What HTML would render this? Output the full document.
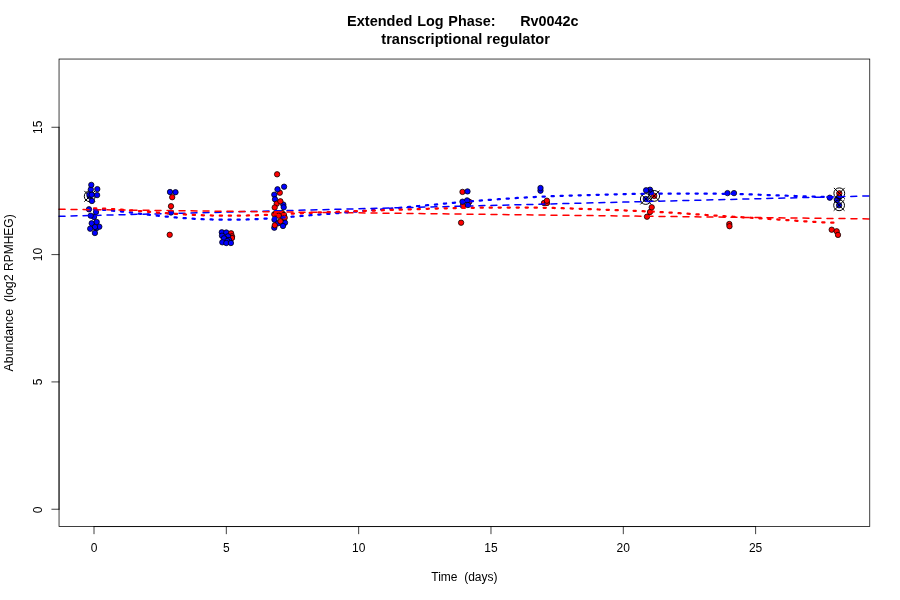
<!DOCTYPE html>
<html lang="en"><head><meta charset="utf-8"><title>Extended Log Phase: Rv0042c</title>
<style>html,body{margin:0;padding:0;background:#fff}body{width:900px;height:600px;position:relative;overflow:hidden}</style>
</head><body>
<svg width="900" height="600" viewBox="0 0 900 600" style="position:absolute;left:0;top:0">
<rect width="900" height="600" fill="#fff"/>
<g id="pts" stroke="#000" stroke-width="0.75">
<circle cx="89.7" cy="196.3" r="2.7" fill="#0000ff"/>
<circle cx="89.7" cy="196.3" r="5.4" fill="none" stroke-width="1"/>
<path d="M84.3 190.9L95.1 201.7M84.3 201.7L95.1 190.9" fill="none" stroke-width="1"/>
<circle cx="89.4" cy="194.6" r="2.7" fill="#0000ff"/>
<circle cx="91.7" cy="194.7" r="2.7" fill="#0000ff"/>
<circle cx="97.1" cy="195.1" r="2.7" fill="#0000ff"/>
<circle cx="90.8" cy="189.5" r="2.7" fill="#0000ff"/>
<circle cx="97.3" cy="189.1" r="2.7" fill="#0000ff"/>
<circle cx="91.3" cy="184.9" r="2.7" fill="#0000ff"/>
<circle cx="91.9" cy="201.0" r="2.7" fill="#0000ff"/>
<circle cx="89.0" cy="209.3" r="2.7" fill="#0000ff"/>
<circle cx="96.0" cy="212.0" r="2.7" fill="#0000ff"/>
<circle cx="94.0" cy="217.0" r="2.7" fill="#0000ff"/>
<circle cx="90.7" cy="215.7" r="2.7" fill="#0000ff"/>
<circle cx="91.7" cy="223.3" r="2.7" fill="#0000ff"/>
<circle cx="96.7" cy="222.0" r="2.7" fill="#0000ff"/>
<circle cx="96.3" cy="228.3" r="2.7" fill="#0000ff"/>
<circle cx="99.3" cy="226.7" r="2.7" fill="#0000ff"/>
<circle cx="95.0" cy="227.0" r="2.7" fill="#0000ff"/>
<circle cx="90.2" cy="228.7" r="2.7" fill="#0000ff"/>
<circle cx="94.9" cy="233.0" r="2.7" fill="#0000ff"/>
<circle cx="170.0" cy="192.0" r="2.7" fill="#0000ff"/>
<circle cx="175.5" cy="192.2" r="2.7" fill="#0000ff"/>
<circle cx="172.2" cy="197.2" r="2.7" fill="#ff0000"/>
<circle cx="171.0" cy="206.2" r="2.7" fill="#ff0000"/>
<circle cx="171.0" cy="212.5" r="2.7" fill="#0000ff"/>
<circle cx="169.7" cy="234.8" r="2.7" fill="#ff0000"/>
<circle cx="221.8" cy="232.3" r="2.7" fill="#0000ff"/>
<circle cx="226.3" cy="232.5" r="2.7" fill="#0000ff"/>
<circle cx="231.1" cy="233.3" r="2.7" fill="#ff0000"/>
<circle cx="232.0" cy="236.3" r="2.7" fill="#ff0000"/>
<circle cx="232.0" cy="238.0" r="2.7" fill="#ff0000"/>
<circle cx="222.0" cy="235.7" r="2.7" fill="#0000ff"/>
<circle cx="228.0" cy="236.3" r="2.7" fill="#0000ff"/>
<circle cx="225.0" cy="239.0" r="2.7" fill="#0000ff"/>
<circle cx="229.0" cy="240.0" r="2.7" fill="#0000ff"/>
<circle cx="224.0" cy="238.3" r="2.7" fill="#0000ff"/>
<circle cx="227.2" cy="241.0" r="2.7" fill="#0000ff"/>
<circle cx="222.3" cy="242.3" r="2.7" fill="#0000ff"/>
<circle cx="226.3" cy="243.0" r="2.7" fill="#0000ff"/>
<circle cx="230.9" cy="243.0" r="2.7" fill="#0000ff"/>
<circle cx="277.1" cy="174.3" r="2.7" fill="#ff0000"/>
<circle cx="284.1" cy="186.7" r="2.7" fill="#0000ff"/>
<circle cx="279.8" cy="192.7" r="2.7" fill="#ff0000"/>
<circle cx="277.5" cy="189.3" r="2.7" fill="#0000ff"/>
<circle cx="274.3" cy="194.7" r="2.7" fill="#0000ff"/>
<circle cx="275.0" cy="199.3" r="2.7" fill="#0000ff"/>
<circle cx="283.3" cy="204.6" r="2.7" fill="#0000ff"/>
<circle cx="276.7" cy="203.7" r="2.7" fill="#ff0000"/>
<circle cx="280.4" cy="201.3" r="2.7" fill="#ff0000"/>
<circle cx="283.7" cy="207.3" r="2.7" fill="#0000ff"/>
<circle cx="274.7" cy="207.5" r="2.7" fill="#ff0000"/>
<circle cx="274.3" cy="227.7" r="2.7" fill="#0000ff"/>
<circle cx="283.3" cy="218.0" r="2.7" fill="#0000ff"/>
<circle cx="274.3" cy="214.3" r="2.7" fill="#ff0000"/>
<circle cx="282.0" cy="213.0" r="2.7" fill="#ff0000"/>
<circle cx="276.0" cy="213.3" r="2.7" fill="#ff0000"/>
<circle cx="284.0" cy="215.0" r="2.7" fill="#ff0000"/>
<circle cx="284.7" cy="217.7" r="2.7" fill="#ff0000"/>
<circle cx="278.7" cy="215.7" r="2.7" fill="#ff0000"/>
<circle cx="274.5" cy="219.7" r="2.7" fill="#0000ff"/>
<circle cx="285.0" cy="222.7" r="2.7" fill="#0000ff"/>
<circle cx="278.0" cy="223.3" r="2.7" fill="#0000ff"/>
<circle cx="280.5" cy="221.3" r="2.7" fill="#ff0000"/>
<circle cx="274.8" cy="225.3" r="2.7" fill="#ff0000"/>
<circle cx="283.0" cy="226.0" r="2.7" fill="#0000ff"/>
<circle cx="462.5" cy="191.9" r="2.7" fill="#ff0000"/>
<circle cx="467.5" cy="191.4" r="2.7" fill="#0000ff"/>
<circle cx="469.3" cy="201.8" r="2.7" fill="#ff0000"/>
<circle cx="462.9" cy="205.8" r="2.7" fill="#ff0000"/>
<circle cx="462.5" cy="201.7" r="2.7" fill="#0000ff"/>
<circle cx="467.1" cy="200.4" r="2.7" fill="#0000ff"/>
<circle cx="467.9" cy="205.0" r="2.7" fill="#0000ff"/>
<circle cx="461.1" cy="222.7" r="2.7" fill="#ff0000"/>
<circle cx="540.5" cy="190.7" r="2.7" fill="#0000ff"/>
<circle cx="540.5" cy="188.0" r="2.7" fill="#0000ff"/>
<circle cx="544.0" cy="203.0" r="2.7" fill="#ff0000"/>
<circle cx="547.0" cy="203.0" r="2.7" fill="#ff0000"/>
<circle cx="546.9" cy="200.7" r="2.7" fill="#ff0000"/>
<circle cx="650.0" cy="189.7" r="2.7" fill="#0000ff"/>
<circle cx="651.0" cy="192.3" r="2.7" fill="#0000ff"/>
<circle cx="646.1" cy="190.3" r="2.7" fill="#0000ff"/>
<circle cx="654.2" cy="195.9" r="2.7" fill="#ff0000"/>
<circle cx="645.8" cy="199.0" r="2.7" fill="#0000ff"/>
<circle cx="647.0" cy="216.7" r="2.7" fill="#ff0000"/>
<circle cx="650.0" cy="212.0" r="2.7" fill="#ff0000"/>
<circle cx="651.7" cy="207.3" r="2.7" fill="#ff0000"/>
<circle cx="727.5" cy="193.1" r="2.7" fill="#0000ff"/>
<circle cx="734.0" cy="193.1" r="2.7" fill="#0000ff"/>
<circle cx="729.3" cy="224.0" r="2.7" fill="#ff0000"/>
<circle cx="729.5" cy="226.2" r="2.7" fill="#ff0000"/>
<circle cx="829.8" cy="197.7" r="2.7" fill="#0000ff"/>
<circle cx="838.7" cy="198.0" r="2.7" fill="#0000ff"/>
<circle cx="837.0" cy="200.0" r="2.7" fill="#0000ff"/>
<circle cx="839.3" cy="193.3" r="2.7" fill="#ff0000"/>
<circle cx="839.1" cy="205.3" r="2.7" fill="#0000ff"/>
<circle cx="831.7" cy="229.7" r="2.7" fill="#ff0000"/>
<circle cx="836.7" cy="231.3" r="2.7" fill="#ff0000"/>
<circle cx="838.0" cy="234.9" r="2.7" fill="#ff0000"/>
</g>
<g id="marks" fill="none" stroke="#000" stroke-width="1">
<circle cx="654.2" cy="195.9" r="5.4"/>
<path d="M648.8 190.5L659.6 201.3M648.8 201.3L659.6 190.5"/>
<circle cx="645.8" cy="199.0" r="5.4"/>
<path d="M640.4 193.6L651.2 204.4M640.4 204.4L651.2 193.6"/>
<circle cx="839.3" cy="193.3" r="5.4"/>
<path d="M833.9 187.9L844.7 198.7M833.9 198.7L844.7 187.9"/>
<circle cx="839.1" cy="205.3" r="5.4"/>
<path d="M833.7 199.9L844.5 210.7M833.7 210.7L844.5 199.9"/>
</g>
<g id="lines" fill="none" stroke-width="2" stroke-linecap="round">
<path d="M59.04 216.3L869.76 195.9" stroke="#0000ff" stroke-width="1.5" stroke-dasharray="6 6"/>
<path d="M59.04 209.3L869.76 218.9" stroke="#ff0000" stroke-width="1.5" stroke-dasharray="6 6"/>
<path d="M94.0 209.21L95.9 209.31L97.7 209.42L99.6 209.55L101.5 209.68L103.3 209.82L105.2 209.97L107.1 210.13L108.9 210.29L110.8 210.46L112.6 210.64L114.5 210.81L116.4 211.00L118.2 211.19L120.1 211.38L122.0 211.58L123.8 211.79L125.7 212.00L127.6 212.21L129.4 212.42L131.3 212.64L133.2 212.86L135.0 213.09L136.9 213.31L138.8 213.54L140.6 213.77L142.5 214.01L144.3 214.24L146.2 214.47L148.1 214.70L149.9 214.92L151.8 215.14L153.7 215.34L155.5 215.55L157.4 215.74L159.3 215.93L161.1 216.12L163.0 216.29L164.9 216.47L166.7 216.64L168.6 216.81L170.5 216.98L172.3 217.15L174.2 217.31L176.0 217.47L177.9 217.62L179.8 217.77L181.6 217.92L183.5 218.06L185.4 218.20L187.2 218.33L189.1 218.46L191.0 218.59L192.8 218.71L194.7 218.82L196.6 218.92L198.4 219.01L200.3 219.10L202.2 219.18L204.0 219.26L205.9 219.32L207.7 219.38L209.6 219.44L211.5 219.49L213.3 219.53L215.2 219.58L217.1 219.61L218.9 219.65L220.8 219.67L222.7 219.70L224.5 219.71L226.4 219.72L228.3 219.73L230.1 219.73L232.0 219.73L233.8 219.72L235.7 219.71L237.6 219.70L239.4 219.67L241.3 219.64L243.2 219.60L245.0 219.55L246.9 219.49L248.8 219.43L250.6 219.36L252.5 219.28L254.4 219.20L256.2 219.11L258.1 219.01L260.0 218.91L261.8 218.81L263.7 218.70L265.5 218.59L267.4 218.47L269.3 218.35L271.1 218.23L273.0 218.11L274.9 217.98L276.7 217.85L278.6 217.72L280.5 217.59L282.3 217.45L284.2 217.31L286.1 217.17L287.9 217.03L289.8 216.89L291.7 216.74L293.5 216.59L295.4 216.44L297.2 216.28L299.1 216.13L301.0 215.98L302.8 215.83L304.7 215.69L306.6 215.54L308.4 215.39L310.3 215.24L312.2 215.10L314.0 214.95L315.9 214.81L317.8 214.67L319.6 214.53L321.5 214.38L323.4 214.24L325.2 214.10L327.1 213.95L328.9 213.81L330.8 213.66L332.7 213.51L334.5 213.36L336.4 213.21L338.3 213.06L340.1 212.91L342.0 212.76L343.9 212.60L345.7 212.45L347.6 212.29L349.5 212.14L351.3 211.98L353.2 211.82L355.1 211.67L356.9 211.51L358.8 211.35L360.6 211.19L362.5 211.04L364.4 210.88L366.2 210.72L368.1 210.56L370.0 210.40L371.8 210.24L373.7 210.08L375.6 209.91L377.4 209.75L379.3 209.59L381.2 209.43L383.0 209.26L384.9 209.10L386.8 208.94L388.6 208.77L390.5 208.61L392.3 208.44L394.2 208.28L396.1 208.11L397.9 207.94L399.8 207.78L401.7 207.61L403.5 207.44L405.4 207.27L407.3 207.10L409.1 206.93L411.0 206.76L412.9 206.59L414.7 206.42L416.6 206.25L418.5 206.07L420.3 205.90L422.2 205.73L424.0 205.55L425.9 205.38L427.8 205.20L429.6 205.03L431.5 204.85L433.4 204.68L435.2 204.51L437.1 204.33L439.0 204.16L440.8 203.99L442.7 203.82L444.6 203.64L446.4 203.47L448.3 203.30L450.2 203.13L452.0 202.96L453.9 202.79L455.7 202.62L457.6 202.45L459.5 202.29L461.3 202.12L463.2 201.96L465.1 201.79L466.9 201.64L468.8 201.48L470.7 201.32L472.5 201.17L474.4 201.02L476.3 200.87L478.1 200.72L480.0 200.58L481.8 200.44L483.7 200.30L485.6 200.16L487.4 200.02L489.3 199.88L491.2 199.75L493.0 199.62L494.9 199.48L496.8 199.35L498.6 199.22L500.5 199.09L502.4 198.97L504.2 198.84L506.1 198.72L508.0 198.59L509.8 198.47L511.7 198.35L513.5 198.22L515.4 198.10L517.3 197.99L519.1 197.87L521.0 197.76L522.9 197.65L524.7 197.54L526.6 197.44L528.5 197.33L530.3 197.23L532.2 197.13L534.1 197.03L535.9 196.94L537.8 196.84L539.7 196.75L541.5 196.66L543.4 196.57L545.2 196.49L547.1 196.41L549.0 196.33L550.8 196.25L552.7 196.17L554.6 196.09L556.4 196.02L558.3 195.95L560.2 195.88L562.0 195.81L563.9 195.75L565.8 195.69L567.6 195.63L569.5 195.57L571.4 195.52L573.2 195.47L575.1 195.42L576.9 195.36L578.8 195.31L580.7 195.26L582.5 195.21L584.4 195.16L586.3 195.11L588.1 195.06L590.0 195.00L591.9 194.95L593.7 194.90L595.6 194.85L597.5 194.80L599.3 194.75L601.2 194.70L603.1 194.64L604.9 194.59L606.8 194.54L608.6 194.49L610.5 194.45L612.4 194.40L614.2 194.35L616.1 194.31L618.0 194.27L619.8 194.23L621.7 194.19L623.6 194.15L625.4 194.11L627.3 194.08L629.2 194.04L631.0 194.01L632.9 193.98L634.8 193.95L636.6 193.92L638.5 193.90L640.3 193.87L642.2 193.85L644.1 193.82L645.9 193.80L647.8 193.78L649.7 193.76L651.5 193.75L653.4 193.73L655.3 193.72L657.1 193.71L659.0 193.70L660.9 193.69L662.7 193.68L664.6 193.67L666.5 193.67L668.3 193.66L670.2 193.66L672.0 193.65L673.9 193.65L675.8 193.64L677.6 193.64L679.5 193.63L681.4 193.63L683.2 193.62L685.1 193.62L687.0 193.62L688.8 193.62L690.7 193.61L692.6 193.61L694.4 193.61L696.3 193.61L698.2 193.61L700.0 193.61L701.9 193.62L703.7 193.62L705.6 193.63L707.5 193.65L709.3 193.66L711.2 193.67L713.1 193.69L714.9 193.71L716.8 193.73L718.7 193.75L720.5 193.78L722.4 193.81L724.3 193.83L726.1 193.86L728.0 193.90L729.8 193.93L731.7 193.97L733.6 194.00L735.4 194.05L737.3 194.09L739.2 194.13L741.0 194.18L742.9 194.23L744.8 194.28L746.6 194.33L748.5 194.38L750.4 194.44L752.2 194.50L754.1 194.56L756.0 194.62L757.8 194.69L759.7 194.75L761.5 194.81L763.4 194.88L765.3 194.94L767.1 195.01L769.0 195.08L770.9 195.14L772.7 195.21L774.6 195.28L776.5 195.35L778.3 195.42L780.2 195.49L782.1 195.55L783.9 195.62L785.8 195.69L787.7 195.75L789.5 195.82L791.4 195.88L793.2 195.95L795.1 196.01L797.0 196.08L798.8 196.14L800.7 196.20L802.6 196.27L804.4 196.33L806.3 196.39L808.2 196.45L810.0 196.51L811.9 196.57L813.8 196.62L815.6 196.67L817.5 196.72L819.4 196.77L821.2 196.82L823.1 196.86L824.9 196.90L826.8 196.93L828.7 196.97L830.5 197.00L832.4 197.03L834.3 197.06L836.1 197.09L838.0 197.11" stroke="#0000ff" stroke-width="2.25" stroke-dasharray="2.25 6.75"/>
<path d="M94.0 208.26L95.9 208.33L97.7 208.40L99.6 208.47L101.4 208.55L103.3 208.63L105.1 208.72L107.0 208.81L108.8 208.91L110.7 209.01L112.5 209.11L114.4 209.22L116.3 209.33L118.1 209.45L120.0 209.57L121.8 209.70L123.7 209.84L125.5 209.97L127.4 210.11L129.2 210.25L131.1 210.39L132.9 210.54L134.8 210.68L136.7 210.83L138.5 210.98L140.4 211.13L142.2 211.29L144.1 211.44L145.9 211.60L147.8 211.76L149.6 211.91L151.5 212.07L153.3 212.22L155.2 212.37L157.1 212.51L158.9 212.66L160.8 212.80L162.6 212.94L164.5 213.08L166.3 213.21L168.2 213.35L170.0 213.48L171.9 213.61L173.7 213.74L175.6 213.86L177.5 213.99L179.3 214.11L181.2 214.23L183.0 214.34L184.9 214.45L186.7 214.56L188.6 214.66L190.4 214.75L192.3 214.84L194.2 214.93L196.0 215.01L197.9 215.09L199.7 215.16L201.6 215.23L203.4 215.29L205.3 215.34L207.1 215.39L209.0 215.44L210.8 215.48L212.7 215.52L214.6 215.56L216.4 215.59L218.3 215.62L220.1 215.65L222.0 215.67L223.8 215.69L225.7 215.71L227.5 215.72L229.4 215.72L231.2 215.72L233.1 215.71L235.0 215.70L236.8 215.69L238.7 215.67L240.5 215.64L242.4 215.61L244.2 215.57L246.1 215.54L247.9 215.49L249.8 215.45L251.6 215.40L253.5 215.34L255.4 215.29L257.2 215.22L259.1 215.16L260.9 215.09L262.8 215.02L264.6 214.95L266.5 214.87L268.3 214.80L270.2 214.72L272.0 214.64L273.9 214.55L275.8 214.47L277.6 214.38L279.5 214.29L281.3 214.20L283.2 214.11L285.0 214.01L286.9 213.92L288.7 213.83L290.6 213.74L292.4 213.65L294.3 213.56L296.2 213.47L298.0 213.39L299.9 213.30L301.7 213.21L303.6 213.13L305.4 213.04L307.3 212.96L309.1 212.88L311.0 212.80L312.8 212.72L314.7 212.64L316.6 212.56L318.4 212.48L320.3 212.40L322.1 212.33L324.0 212.25L325.8 212.18L327.7 212.11L329.5 212.04L331.4 211.97L333.2 211.90L335.1 211.84L337.0 211.77L338.8 211.71L340.7 211.64L342.5 211.58L344.4 211.52L346.2 211.46L348.1 211.40L349.9 211.34L351.8 211.27L353.6 211.21L355.5 211.15L357.4 211.09L359.2 211.03L361.1 210.96L362.9 210.90L364.8 210.84L366.6 210.78L368.5 210.72L370.3 210.66L372.2 210.59L374.1 210.53L375.9 210.47L377.8 210.41L379.6 210.35L381.5 210.28L383.3 210.22L385.2 210.16L387.0 210.10L388.9 210.04L390.7 209.98L392.6 209.91L394.5 209.85L396.3 209.79L398.2 209.73L400.0 209.67L401.9 209.61L403.7 209.55L405.6 209.49L407.4 209.43L409.3 209.37L411.1 209.31L413.0 209.25L414.9 209.19L416.7 209.13L418.6 209.07L420.4 209.01L422.3 208.95L424.1 208.89L426.0 208.83L427.8 208.78L429.7 208.72L431.5 208.67L433.4 208.61L435.3 208.56L437.1 208.51L439.0 208.46L440.8 208.42L442.7 208.37L444.5 208.33L446.4 208.28L448.2 208.24L450.1 208.20L451.9 208.16L453.8 208.12L455.7 208.09L457.5 208.05L459.4 208.02L461.2 207.98L463.1 207.95L464.9 207.92L466.8 207.89L468.6 207.86L470.5 207.84L472.3 207.82L474.2 207.79L476.1 207.77L477.9 207.75L479.8 207.74L481.6 207.72L483.5 207.71L485.3 207.69L487.2 207.68L489.0 207.67L490.9 207.66L492.7 207.64L494.6 207.63L496.5 207.62L498.3 207.61L500.2 207.60L502.0 207.59L503.9 207.59L505.7 207.58L507.6 207.57L509.4 207.56L511.3 207.56L513.1 207.55L515.0 207.55L516.9 207.54L518.7 207.54L520.6 207.55L522.4 207.55L524.3 207.56L526.1 207.57L528.0 207.58L529.8 207.59L531.7 207.61L533.5 207.62L535.4 207.64L537.3 207.67L539.1 207.69L541.0 207.72L542.8 207.75L544.7 207.78L546.5 207.82L548.4 207.85L550.2 207.89L552.1 207.94L553.9 207.98L555.8 208.03L557.7 208.07L559.5 208.12L561.4 208.18L563.2 208.23L565.1 208.29L566.9 208.35L568.8 208.41L570.6 208.48L572.5 208.54L574.4 208.61L576.2 208.68L578.1 208.75L579.9 208.82L581.8 208.88L583.6 208.95L585.5 209.02L587.3 209.09L589.2 209.16L591.0 209.22L592.9 209.29L594.8 209.36L596.6 209.43L598.5 209.50L600.3 209.56L602.2 209.63L604.0 209.70L605.9 209.77L607.7 209.84L609.6 209.91L611.4 209.98L613.3 210.05L615.2 210.12L617.0 210.19L618.9 210.26L620.7 210.33L622.6 210.40L624.4 210.47L626.3 210.55L628.1 210.62L630.0 210.69L631.8 210.77L633.7 210.84L635.6 210.92L637.4 210.99L639.3 211.07L641.1 211.15L643.0 211.23L644.8 211.31L646.7 211.39L648.5 211.47L650.4 211.56L652.2 211.65L654.1 211.74L656.0 211.84L657.8 211.93L659.7 212.03L661.5 212.13L663.4 212.24L665.2 212.34L667.1 212.45L668.9 212.56L670.8 212.67L672.6 212.78L674.5 212.89L676.4 213.01L678.2 213.12L680.1 213.24L681.9 213.36L683.8 213.48L685.6 213.61L687.5 213.73L689.3 213.86L691.2 213.98L693.0 214.11L694.9 214.24L696.8 214.36L698.6 214.49L700.5 214.62L702.3 214.75L704.2 214.88L706.0 215.00L707.9 215.13L709.7 215.25L711.6 215.37L713.4 215.50L715.3 215.62L717.2 215.74L719.0 215.85L720.9 215.97L722.7 216.09L724.6 216.20L726.4 216.32L728.3 216.43L730.1 216.54L732.0 216.66L733.8 216.77L735.7 216.88L737.6 216.99L739.4 217.10L741.3 217.21L743.1 217.32L745.0 217.43L746.8 217.53L748.7 217.64L750.5 217.75L752.4 217.86L754.3 217.97L756.1 218.09L758.0 218.20L759.8 218.32L761.7 218.43L763.5 218.55L765.4 218.67L767.2 218.79L769.1 218.91L770.9 219.03L772.8 219.15L774.7 219.28L776.5 219.40L778.4 219.53L780.2 219.65L782.1 219.78L783.9 219.90L785.8 220.02L787.6 220.15L789.5 220.27L791.3 220.40L793.2 220.52L795.1 220.64L796.9 220.77L798.8 220.89L800.6 221.01L802.5 221.14L804.3 221.26L806.2 221.38L808.0 221.50L809.9 221.61L811.7 221.72L813.6 221.83L815.5 221.93L817.3 222.03L819.2 222.12L821.0 222.20L822.9 222.29L824.7 222.36L826.6 222.44L828.4 222.50L830.3 222.57L832.1 222.63L834.0 222.68" stroke="#ff0000" stroke-width="2.25" stroke-dasharray="2.25 6.75"/>
</g>
<g id="axes" fill="none" stroke="#000" stroke-width="0.75" stroke-linecap="round">
<rect x="59.04" y="59.04" width="810.72" height="467.52"/>
<path d="M94.00 526.56H755.62"/>
<path d="M94.00 526.56v7.2"/>
<path d="M226.32 526.56v7.2"/>
<path d="M358.65 526.56v7.2"/>
<path d="M490.98 526.56v7.2"/>
<path d="M623.30 526.56v7.2"/>
<path d="M755.62 526.56v7.2"/>
<path d="M59.04 509.24V127.28"/>
<path d="M59.04 509.24h-7.2"/>
<path d="M59.04 381.92h-7.2"/>
<path d="M59.04 254.60h-7.2"/>
<path d="M59.04 127.28h-7.2"/>
</g>
<g font-family="'Liberation Sans', Arial, Helvetica, sans-serif" font-size="12" fill="#000" text-anchor="middle">
<text x="94.00" y="551.7">0</text>
<text x="226.32" y="551.7">5</text>
<text x="358.65" y="551.7">10</text>
<text x="490.98" y="551.7">15</text>
<text x="623.30" y="551.7">20</text>
<text x="755.62" y="551.7">25</text>
<text transform="translate(41.8 509.84) rotate(-90)">0</text>
<text transform="translate(41.8 381.92) rotate(-90)">5</text>
<text transform="translate(41.8 254.60) rotate(-90)">10</text>
<text transform="translate(41.8 127.28) rotate(-90)">15</text>
<text x="464.40" y="581.3" xml:space="preserve">Time  (days)</text>
<text transform="translate(13 371.5) rotate(-90)" text-anchor="start" textLength="62.7" lengthAdjust="spacingAndGlyphs">Abundance</text>
<text transform="translate(13 302) rotate(-90)" text-anchor="start" textLength="27.7" lengthAdjust="spacingAndGlyphs">(log2</text>
<text transform="translate(13 271) rotate(-90)" text-anchor="start">RPMHEG)</text>
<text x="347" y="25.5" text-anchor="start" textLength="65.5" lengthAdjust="spacingAndGlyphs" font-size="14.4" font-weight="bold">Extended</text>
<text x="417.2" y="25.5" text-anchor="start" font-size="14.4" font-weight="bold">Log</text>
<text x="448.3" y="25.5" text-anchor="start" font-size="14.4" font-weight="bold">Phase:</text>
<text x="520.2" y="25.5" text-anchor="start" font-size="14.4" font-weight="bold">Rv0042c</text>
<text x="381.3" y="43.5" text-anchor="start" textLength="101" lengthAdjust="spacingAndGlyphs" font-size="14.4" font-weight="bold">transcriptional</text>
<text x="486.5" y="43.5" text-anchor="start" textLength="63.4" lengthAdjust="spacingAndGlyphs" font-size="14.4" font-weight="bold">regulator</text>
</g>
</svg>
</body></html>
